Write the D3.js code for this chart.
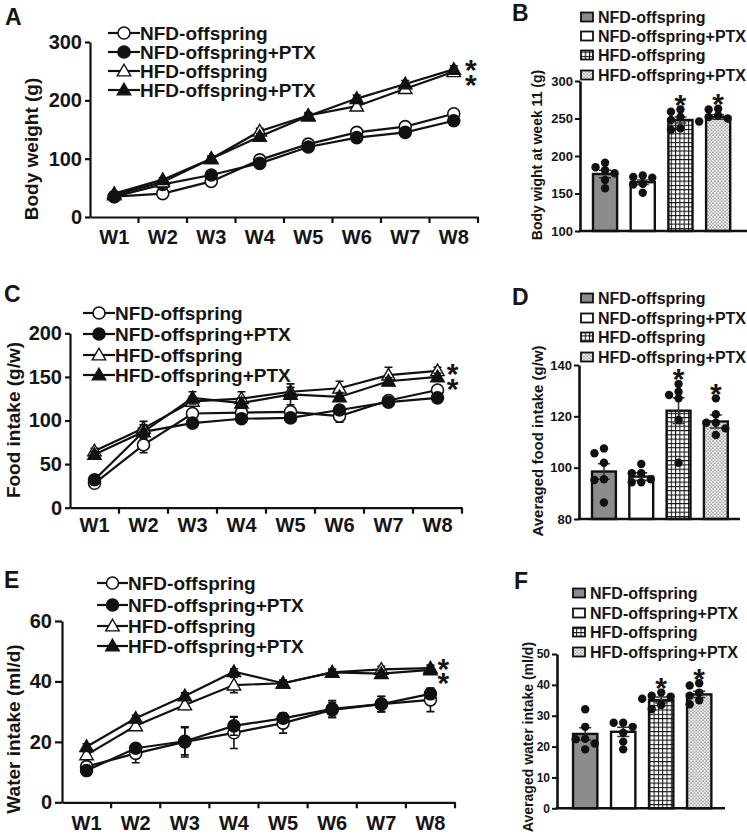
<!DOCTYPE html>
<html><head><meta charset="utf-8">
<script src="https://cdn.jsdelivr.net/npm/d3@7"></script>
<style>
html,body{margin:0;padding:0;background:#fff;}
svg{display:block;}
text{font-family:"Liberation Sans",Arial,sans-serif;font-weight:bold;fill:#151515;}
</style></head><body>
<svg id="chart" width="747" height="838"></svg>
<script>
// ---------------- DATA ----------------
const weeks = ["W1","W2","W3","W4","W5","W6","W7","W8"];
const groups = ["NFD-offspring","NFD-offspring+PTX","HFD-offspring","HFD-offspring+PTX"];

// A: body weight (g)
const bwNFD     = [35, 40, 61, 98, 125, 145, 155, 177];
const bwNFDPTX  = [35, 56, 72, 92, 120, 136, 145, 165];
const bwHFD     = [38, 60, 100, 147, 174, 190, 220, 249];
const bwHFDPTX  = [40, 64, 100, 138, 173, 203, 228, 253];
const bwNFDe    = [2, 3, 3, 4, 4, 5, 5, 5];
const bwNFDPTXe = [2, 3, 3, 4, 4, 4, 5, 5];
const bwHFDe    = [2, 3, 4, 5, 5, 6, 6, 6];
const bwHFDPTXe = [2, 3, 4, 5, 5, 6, 6, 6];
const bwTicks = [0, 100, 200, 300];

// C: food intake (g/w)
const fiNFD     = [28, 72, 108, 109, 110, 105, 123, 135];
const fiNFDPTX  = [32, 87, 97, 102, 103, 112, 121, 126];
const fiHFD     = [65, 91, 122, 125, 133, 137, 152, 157];
const fiHFDPTX  = [61, 87, 126, 120, 130, 127, 145, 150];
const fiNFDe    = [3, 9, 4, 4, 3, 7, 3, 3];
const fiNFDPTXe = [3, 4, 3, 4, 3, 4, 3, 3];
const fiHFDe    = [3, 8, 5, 8, 5, 8, 9, 4];
const fiHFDPTXe = [3, 8, 7, 6, 12, 5, 4, 4];
const fiTicks = [0, 50, 100, 150, 200];

// E: water intake (ml/d)
const wiNFD     = [11.8, 16.2, 20.0, 23.0, 26.2, 30.6, 32.5, 33.9];
const wiNFDPTX  = [10.5, 17.9, 20.2, 25.3, 27.8, 30.9, 32.5, 35.9];
const wiHFD     = [15.7, 25.3, 32.2, 38.8, 39.4, 43.0, 44.0, 44.4];
const wiHFDPTX  = [18.4, 27.8, 35.2, 43.2, 39.4, 43.0, 42.6, 43.8];
const wiNFDe    = [1, 3.1, 5, 5.2, 3.3, 2.5, 2.5, 3.9];
const wiNFDPTXe = [1, 1.5, 4.5, 3.1, 1.5, 2.8, 2.6, 1.5];
const wiHFDe    = [1, 1, 1.5, 2.5, 1, 1, 1, 1];
const wiHFDPTXe = [1, 1, 1, 1, 1, 1, 1, 1];
const wiTicks = [0, 20, 40, 60];

// B: body weight at week 11
const bw11Mean = [176, 165, 248, 252];
const bw11Sem  = [5, 3, 4, 3];
const bw11Dots = [[185,191,181,177,168,157],[174,172,171,163,162,151],[259,262,252,248,235,237],[262,263,254,250,252,246]];
const bw11Sig  = [false, false, true, true];
const bw11Ticks = [100, 150, 200, 250, 300];

// D: averaged food intake
const fiAvgMean = [98.5, 96.5, 122.2, 118];
const fiAvgSem  = [3, 1.5, 5, 2.5];
const fiAvgDots = [[105.6,107.5,101.9,95.2,95.5,86.4],[101.4,97.8,97.8,94.3,95.5,94.3],[129.6,132.6,127,128.3,118.6,101.9],[127,120.8,117.5,117.5,112.7,115.3]];
const fiAvgSig  = [false, false, true, true];
const fiAvgTicks = [80, 100, 120, 140];

// F: averaged water intake
const wiAvgMean = [24.1, 24.8, 35.1, 36.9];
const wiAvgSem  = [2, 1.5, 1, 1];
const wiAvgDots = [[32.1,26.4,22.5,22.4,21,19.1],[27.7,27.7,26.4,24.5,21.6,19.1],[36.2,37.5,36.5,35.5,32.2,33.5],[40.5,39.8,37.5,36.5,35,33.7]];
const wiAvgSig  = [false, false, true, true];
const wiAvgTicks = [0, 10, 20, 30, 40, 50];

// ---------------- DRAW ----------------
const svg = d3.select("#chart");
const defs = svg.append("defs");
const pg = defs.append("pattern").attr("id","gridPat").attr("patternUnits","userSpaceOnUse").attr("width",4.3).attr("height",4.3);
pg.append("rect").attr("width",4.3).attr("height",4.3).attr("fill","#fff");
pg.append("path").attr("d","M0,0.5H4.3M0.5,0V4.3").attr("stroke","#111").attr("stroke-width",1);
const pd = defs.append("pattern").attr("id","dotPat").attr("patternUnits","userSpaceOnUse").attr("width",3.4).attr("height",3.4);
pd.append("rect").attr("width",3.4).attr("height",3.4).attr("fill","#f2f2f2");
pd.append("circle").attr("cx",0.9).attr("cy",0.9).attr("r",0.75).attr("fill","#777");
pd.append("circle").attr("cx",2.6).attr("cy",2.6).attr("r",0.75).attr("fill","#777");

const barFills = ["#8c8c8c", "#ffffff", "url(#gridPat)", "url(#dotPat)"];
const markerDefs = [
  {shape:"circle", fill:"#fff"},
  {shape:"circle", fill:"#111"},
  {shape:"triangle", fill:"#fff"},
  {shape:"triangle", fill:"#111"}
];

function panelLabel(t, x, y) {
  svg.append("text").attr("x",x).attr("y",y).attr("font-size",23).attr("fill","#111").text(t);
}
function yLabel(t, cx, cy, size, family) {
  svg.append("text").attr("transform",`translate(${cx},${cy}) rotate(-90)`)
    .attr("text-anchor","middle").attr("dominant-baseline","central")
    .attr("font-size",size).style("font-family",family||null).text(t);
}
function star(x, y, size) {
  svg.append("text").attr("x",x).attr("y",y + size*0.58).attr("text-anchor","middle")
    .attr("font-size",size).text("*");
}
function starPair(x, y1, y2, size) {
  const t = svg.append("text").attr("text-anchor","middle").attr("font-size",size);
  t.append("tspan").attr("x",x).attr("y",y1 + size*0.58).text("*");
  t.append("tspan").attr("x",x).attr("y",y2 + size*0.58).text("*");
}
function drawMarker(g, m, cx, cy) {
  if (m.shape === "circle") {
    g.append("circle").attr("cx",cx).attr("cy",cy).attr("r",6)
      .attr("fill",m.fill).attr("stroke","#111").attr("stroke-width",1.6);
  } else {
    g.append("path").attr("d",d3.symbol(d3.symbolTriangle,78)())
      .attr("transform",`translate(${cx},${cy+1})`)
      .attr("fill",m.fill).attr("stroke","#111").attr("stroke-width",1.4).attr("stroke-linejoin","miter");
  }
}

function lineChart(cfg) {
  const g = svg.append("g");
  const x = d3.scaleBand().domain(weeks).range(cfg.xRange);
  const y = d3.scaleLinear().domain([cfg.ticks[0], cfg.ticks[cfg.ticks.length-1]]).range(cfg.yRange);
  const ya = g.append("g").attr("transform",`translate(${cfg.xRange[0]},0)`)
    .call(d3.axisLeft(y).tickValues(cfg.ticks).tickSize(cfg.tick).tickPadding(cfg.yPad).tickSizeOuter(0));
  ya.selectAll("text").attr("font-size",cfg.yTickSize).attr("fill","#151515");
  const xa = g.append("g").attr("transform",`translate(0,${y(cfg.ticks[0])})`)
    .call(d3.axisBottom(x).tickSize(0).tickPadding(cfg.xPad).tickSizeOuter(0));
  xa.selectAll("text").attr("font-size",cfg.xTickSize).attr("fill","#151515");
  [ya, xa].forEach(a => { a.select(".domain").attr("stroke","#111").attr("stroke-width",2.2);
    a.selectAll(".tick line").attr("stroke","#111").attr("stroke-width",2.2); });
  const bounds = weeks.map(w => x(w)).concat([x(weeks[weeks.length-1]) + x.step()]);
  g.selectAll(".bt").data(bounds.slice(1)).join("line")
    .attr("x1",d=>d).attr("x2",d=>d).attr("y1",y(cfg.ticks[0])).attr("y2",y(cfg.ticks[0])+6)
    .attr("stroke","#111").attr("stroke-width",2.2);
  const cx = w => x(w) + x.bandwidth()/2;
  const line = d3.line().x((d,i)=>cx(weeks[i])).y(d=>y(d));
  cfg.series.forEach((s, si) => {
    const sg = g.append("g");
    s.values.forEach((v,i) => {
      const e = s.err[i], xx = cx(weeks[i]);
      sg.append("path").attr("d",`M${xx},${y(v-e)}V${y(v+e)}M${xx-4},${y(v+e)}H${xx+4}M${xx-4},${y(v-e)}H${xx+4}`)
        .attr("stroke","#111").attr("stroke-width",1.6).attr("fill","none");
    });
    sg.append("path").attr("d",line(s.values)).attr("fill","none").attr("stroke","#111").attr("stroke-width",2.2);
    s.values.forEach((v,i) => drawMarker(sg, markerDefs[si], cx(weeks[i]), y(v)));
  });
  groups.forEach((name, i) => {
    const ly = cfg.legY[i];
    g.append("line").attr("x1",cfg.legX[0]).attr("x2",cfg.legX[1]).attr("y1",ly).attr("y2",ly)
      .attr("stroke","#111").attr("stroke-width",2.2);
    drawMarker(g, markerDefs[i], (cfg.legX[0]+cfg.legX[1])/2, ly);
    g.append("text").attr("x",cfg.legX[1]).attr("y",ly).attr("dominant-baseline","central")
      .attr("font-size",cfg.legSize).text(name);
  });
  const last = weeks[weeks.length-1];
  const h1 = cfg.series[2].values[7], h2 = cfg.series[3].values[7];
  const mid = (y(h1)+y(h2))/2;
  starPair(cx(last)+cfg.starDx, mid - cfg.starGap, mid + cfg.starGap, 30);
}

function swarm(vals, y, r, step) {
  const order = vals.map((v,i)=>i).sort((a,b)=>vals[b]-vals[a]);
  const placed = [], off = new Array(vals.length).fill(0);
  const cands = [0, -step, step, -2*step, 2*step];
  order.forEach(i => {
    const py = y(vals[i]);
    for (const c of cands) {
      if (placed.every(p => Math.hypot(p.x-c, p.y-py) >= 2*r - 2)) { off[i]=c; placed.push({x:c,y:py}); break; }
    }
  });
  return off;
}

function barChart(cfg) {
  const g = svg.append("g");
  const x = d3.scaleBand().domain(groups).range(cfg.xRange).paddingInner(0.36).paddingOuter(0.18);
  const y = d3.scaleLinear().domain([cfg.ticks[0], cfg.ticks[cfg.ticks.length-1]]).range(cfg.yRange);
  const base = y(cfg.ticks[0]);
  cfg.means.forEach((m,i) => {
    g.append("rect").attr("x",x(groups[i])).attr("y",y(m)).attr("width",x.bandwidth()).attr("height",base-y(m))
      .attr("fill",barFills[i]).attr("stroke","#111").attr("stroke-width",2.4);
  });
  cfg.means.forEach((m,i) => {
    const xx = x(groups[i]) + x.bandwidth()/2, e = cfg.sem[i];
    g.append("path").attr("d",`M${xx},${y(m-e)}V${y(m+e)}M${xx-6},${y(m+e)}H${xx+6}M${xx-6},${y(m-e)}H${xx+6}`)
      .attr("stroke","#333").attr("stroke-width",1.5).attr("fill","none");
  });
  cfg.dots.forEach((vals,i) => {
    const xx = x(groups[i]) + x.bandwidth()/2;
    const off = swarm(vals, y, 4.2, 9.5);
    vals.forEach((v,j) => g.append("circle").attr("cx",xx+off[j]).attr("cy",y(v)).attr("r",4.2).attr("fill","#111"));
    if (cfg.sig[i]) star(xx, y(d3.max(vals)) - 12, 30);
  });
  const ya = g.append("g").attr("transform",`translate(${cfg.axisX},0)`)
    .call(d3.axisLeft(y).tickValues(cfg.ticks).tickSize(5).tickPadding(2).tickSizeOuter(0));
  ya.selectAll("text").attr("font-size",cfg.tickSize).attr("fill","#222");
  ya.select(".domain").attr("stroke","#111").attr("stroke-width",2.6);
  ya.selectAll(".tick line").attr("stroke","#111").attr("stroke-width",2);
  g.append("line").attr("x1",cfg.axisX-1.3).attr("x2",cfg.xEnd).attr("y1",base).attr("y2",base)
    .attr("stroke","#111").attr("stroke-width",2.6);
  groups.forEach((name,i) => {
    const ly = cfg.legY[i];
    g.append("rect").attr("x",cfg.legX).attr("y",ly-4.5).attr("width",12).attr("height",9)
      .attr("fill",barFills[i]).attr("stroke","#111").attr("stroke-width",1.8);
    g.append("text").attr("x",cfg.legX+17).attr("y",ly).attr("dominant-baseline","central")
      .attr("font-size",16).attr("fill","#222").text(name);
  });
}

// Panel A
panelLabel("A", 5, 25);
lineChart({xRange:[90,478], yRange:[217,42], ticks:bwTicks, tick:5, yPad:3, xPad:13, yTickSize:20, xTickSize:20,
  series:[{values:bwNFD,err:bwNFDe},{values:bwNFDPTX,err:bwNFDPTXe},{values:bwHFD,err:bwHFDe},{values:bwHFDPTX,err:bwHFDPTXe}],
  legX:[108,140], legY:[33,52,71,90], legSize:19, starDx:17, starGap:7.5});
yLabel("Body weight (g)", 31, 149, 19, "'Liberation Sans Narrow',Arial,sans-serif");

// Panel B
panelLabel("B", 512, 21);
barChart({xRange:[586.2,737], yRange:[231,81], ticks:bw11Ticks, axisX:580, xEnd:747, tickSize:13,
  means:bw11Mean, sem:bw11Sem, dots:bw11Dots, sig:bw11Sig, legX:581, legY:[17,36,55,75]});
yLabel("Body wight at week 11 (g)", 537, 155, 14);

// Panel C
panelLabel("C", 4, 302);
lineChart({xRange:[70,462], yRange:[507.7,333.3], ticks:fiTicks, tick:5, yPad:3, xPad:10, yTickSize:20, xTickSize:20,
  series:[{values:fiNFD,err:fiNFDe},{values:fiNFDPTX,err:fiNFDPTXe},{values:fiHFD,err:fiHFDe},{values:fiHFDPTX,err:fiHFDPTXe}],
  legX:[83,115], legY:[313,334,355,375], legSize:19, starDx:15, starGap:7.5});
yLabel("Food intake (g/w)", 13, 420, 19);

// Panel D
panelLabel("D", 512, 305);
barChart({xRange:[585.3,734.5], yRange:[519,365], ticks:fiAvgTicks, axisX:579, xEnd:740, tickSize:13,
  means:fiAvgMean, sem:fiAvgSem, dots:fiAvgDots, sig:fiAvgSig, legX:581, legY:[298,318,337,357]});
yLabel("Averaged food intake (g/w)", 537, 441, 15);

// Panel E
panelLabel("E", 4, 588);
lineChart({xRange:[62,455], yRange:[802.3,621], ticks:wiTicks, tick:7, yPad:3, xPad:14, yTickSize:20, xTickSize:20,
  series:[{values:wiNFD,err:wiNFDe},{values:wiNFDPTX,err:wiNFDPTXe},{values:wiHFD,err:wiHFDe},{values:wiHFDPTX,err:wiHFDPTXe}],
  legX:[97,128], legY:[583,605,626,646], legSize:19, starDx:13, starGap:7});
yLabel("Water intake (ml/d)", 13, 729, 19);

// Panel F
panelLabel("F", 514, 589);
barChart({xRange:[566.2,718.2], yRange:[808.3,654], ticks:wiAvgTicks, axisX:557, xEnd:725, tickSize:12,
  means:wiAvgMean, sem:wiAvgSem, dots:wiAvgDots, sig:wiAvgSig, legX:573, legY:[593,613,632,652]});
yLabel("Averaged water intake (ml/d)", 528, 737, 14);
</script>
</body></html>
